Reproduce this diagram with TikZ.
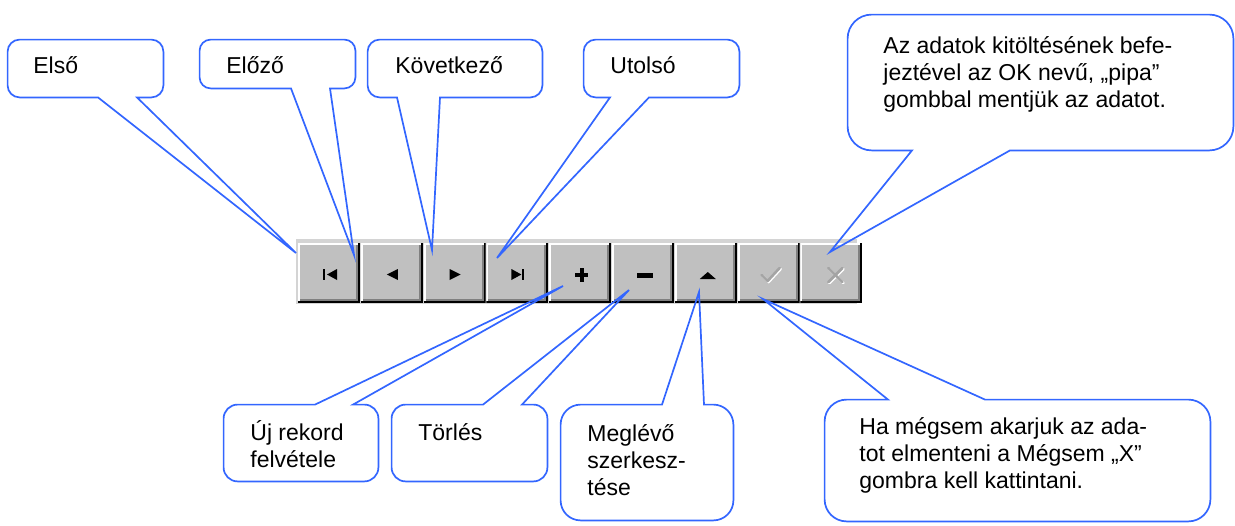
\documentclass[tikz,border=0pt]{standalone}
\usepackage{fontspec}
\setmainfont{Liberation Sans}
\usetikzlibrary{positioning,fit}

\definecolor{calloutblue}{HTML}{3366FF}
\definecolor{btnface}{HTML}{C0C0C0}
\definecolor{btnshadow}{HTML}{808080}
\definecolor{barback}{HTML}{D4D4D4}
\definecolor{iconoff}{HTML}{A4A4A4}

% callout outline: box node, tail base x (left, right), tip, corner radius
\newcommand{\tailbelow}[5]{%
  \draw[bubble] (#2,0 |- #1.south) -- (#4) -- (#3,0 |- #1.south) [rounded corners=#5]
    -- (#1.south east) -- (#1.north east) -- (#1.north west) -- (#1.south west) [sharp corners] -- cycle;}
\newcommand{\tailabove}[5]{%
  \draw[bubble] (#3,0 |- #1.north) -- (#4) -- (#2,0 |- #1.north) [rounded corners=#5]
    -- (#1.north west) -- (#1.south west) -- (#1.south east) -- (#1.north east) [sharp corners] -- cycle;}

\begin{document}
\begin{tikzpicture}[x=0.5pt, y=-0.5pt,
  bubble/.style={draw=calloutblue, line width=0.85pt},
  boxarea/.style={inner sep=0pt},
  txt/.style={anchor=base west, inner sep=0pt, align=left, font=\fontsize{11.5}{13.3}\selectfont},
  btn/.style={minimum width=31pt, minimum height=30pt, inner sep=0pt, fill=btnface,
    path picture={
      \draw[white, line width=1pt] ([shift={(0.5pt,1pt)}]path picture bounding box.south west)
        |- ([shift={(-1pt,-0.5pt)}]path picture bounding box.north east);
      \draw[btnshadow, line width=1pt] ([shift={(1pt,1.5pt)}]path picture bounding box.south west)
        -| ([shift={(-1.5pt,-1pt)}]path picture bounding box.north east);
      \draw[black, line width=1pt] ([shift={(0pt,0.5pt)}]path picture bounding box.south west)
        -| ([shift={(-0.5pt,0pt)}]path picture bounding box.north east);
    }},
  officon/.style={iconoff, line width=1.3pt, line cap=round, line join=round},
  offshade/.style={white, line width=1.3pt, line cap=round, line join=round}]
  \useasboundingbox (0,0) rectangle (1235,525);

  % toolbar
  \node[fit={(296,239) (857,304)}, inner sep=0pt, fill=barback] (bar) {};
  \node[btn] (b1) at (329,273) {};
  \node[btn, right=0pt of b1] (b2) {};
  \node[btn, right=0pt of b2] (b3) {};
  \node[btn, right=0pt of b3] (b4) {};
  \node[btn, right=0pt of b4] (b5) {};
  \node[btn, right=0pt of b5] (b6) {};
  \node[btn, right=0pt of b6] (b7) {};
  \node[btn, right=0pt of b7] (b8) {};
  \node[btn, right=0pt of b8] (b9) {};

  % button icons
  \begin{scope}[shift={(b1.center)}]
    \fill (-6,-4) rectangle (-4,7);
    \fill (-2,1.5) -- (8,-4) -- (8,7) -- cycle;
  \end{scope}
  \begin{scope}[shift={(b2.center)}]
    \fill (-5,1.5) -- (6,-4) -- (6,7) -- cycle;
  \end{scope}
  \begin{scope}[shift={(b3.center)}]
    \fill (-5,-4) -- (6,1.5) -- (-5,7) -- cycle;
  \end{scope}
  \begin{scope}[shift={(b4.center)}]
    \fill (-6,-4) -- (4,1.5) -- (-6,7) -- cycle;
    \fill (5,-4) rectangle (7,7);
  \end{scope}
  \begin{scope}[shift={(b5.center)}]
    \fill (-5,0) rectangle (8,4);
    \fill (-0.5,-5) rectangle (3.5,9);
  \end{scope}
  \begin{scope}[shift={(b6.center)}]
    \fill (-6,0) rectangle (10,5);
  \end{scope}
  \begin{scope}[shift={(b7.center)}]
    \fill (-6,6) -- (2,-1) -- (10,6) -- cycle;
  \end{scope}
  \begin{scope}[shift={(b8.center)}]
    \draw[offshade] (-6,3) -- (0,9) -- (12,-4);
    \draw[officon] (-7,2) -- (-1,8) -- (11,-5);
  \end{scope}
  \begin{scope}[shift={(b9.center)}]
    \draw[offshade] (-2,-4) -- (12,10) (-2,10) -- (12,-4);
    \draw[officon] (-3,-5) -- (11,9) (-3,9) -- (11,-5);
  \end{scope}

  % where the tails point
  \coordinate (p-elso) at (296,253);
  \coordinate (p-elozo) at (354,255);
  \coordinate (p-kov) at (432,250);
  \coordinate (p-utolso) at (497,258);
  \coordinate (p-ok) at (830,252);
  \coordinate (p-uj) at (563,286);
  \coordinate (p-torles) at (629,290);
  \coordinate (p-meglevo) at (699,292);
  \coordinate (p-megsem) at (763,299);

  % callout boxes
  \node[fit={(8,40) (163,97)}, boxarea] (elso) {};
  \node[fit={(200,40) (355,88)}, boxarea] (elozo) {};
  \node[fit={(368,40) (542,97)}, boxarea] (kov) {};
  \node[fit={(584,40) (739,97)}, boxarea] (utolso) {};
  \node[fit={(848,15) (1233,150)}, boxarea] (ok) {};
  \node[fit={(224,405) (378,481)}, boxarea] (uj) {};
  \node[fit={(392,405) (547,481)}, boxarea] (torles) {};
  \node[fit={(561,405) (733,520)}, boxarea] (meglevo) {};
  \node[fit={(825,400) (1210,521)}, boxarea] (megsem) {};

  \tailbelow{elso}{98}{137}{p-elso}{6pt}
  \tailbelow{elozo}{291}{330}{p-elozo}{5.5pt}
  \tailbelow{kov}{397}{440}{p-kov}{6pt}
  \tailbelow{utolso}{610}{649}{p-utolso}{6pt}
  \tailbelow{ok}{912}{1010}{p-ok}{12pt}
  \tailabove{uj}{315}{353}{p-uj}{7pt}
  \tailabove{torles}{483}{522}{p-torles}{7pt}
  \tailabove{meglevo}{662}{704}{p-meglevo}{10pt}
  \tailabove{megsem}{888}{985}{p-megsem}{11pt}

  % texts (multi-line ones sit on the baseline of their last line)
  \node[txt] (elso-t) at (33,73) {Első};
  \node[txt] (elozo-t) at (226,73) {Előző};
  \node[txt] (kov-t) at (395,73) {Következő};
  \node[txt] (utolso-t) at (610,73) {Utolsó};
  \node[txt] (ok-t) at (883,107) {Az adatok kitöltésének befe-\\jeztével az OK nevű, „pipa”\\gombbal mentjük az adatot.};
  \node[txt] (uj-t) at (250,467) {Új rekord\\felvétele};
  \node[txt] (torles-t) at (418,440) {Törlés};
  \node[txt] (meglevo-t) at (587,495) {Meglévő\\szerkesz-\\tése};
  \node[txt] (megsem-t) at (859,488) {Ha mégsem akarjuk az ada-\\tot elmenteni a Mégsem „X”\\gombra kell kattintani.};
\end{tikzpicture}
\end{document}
